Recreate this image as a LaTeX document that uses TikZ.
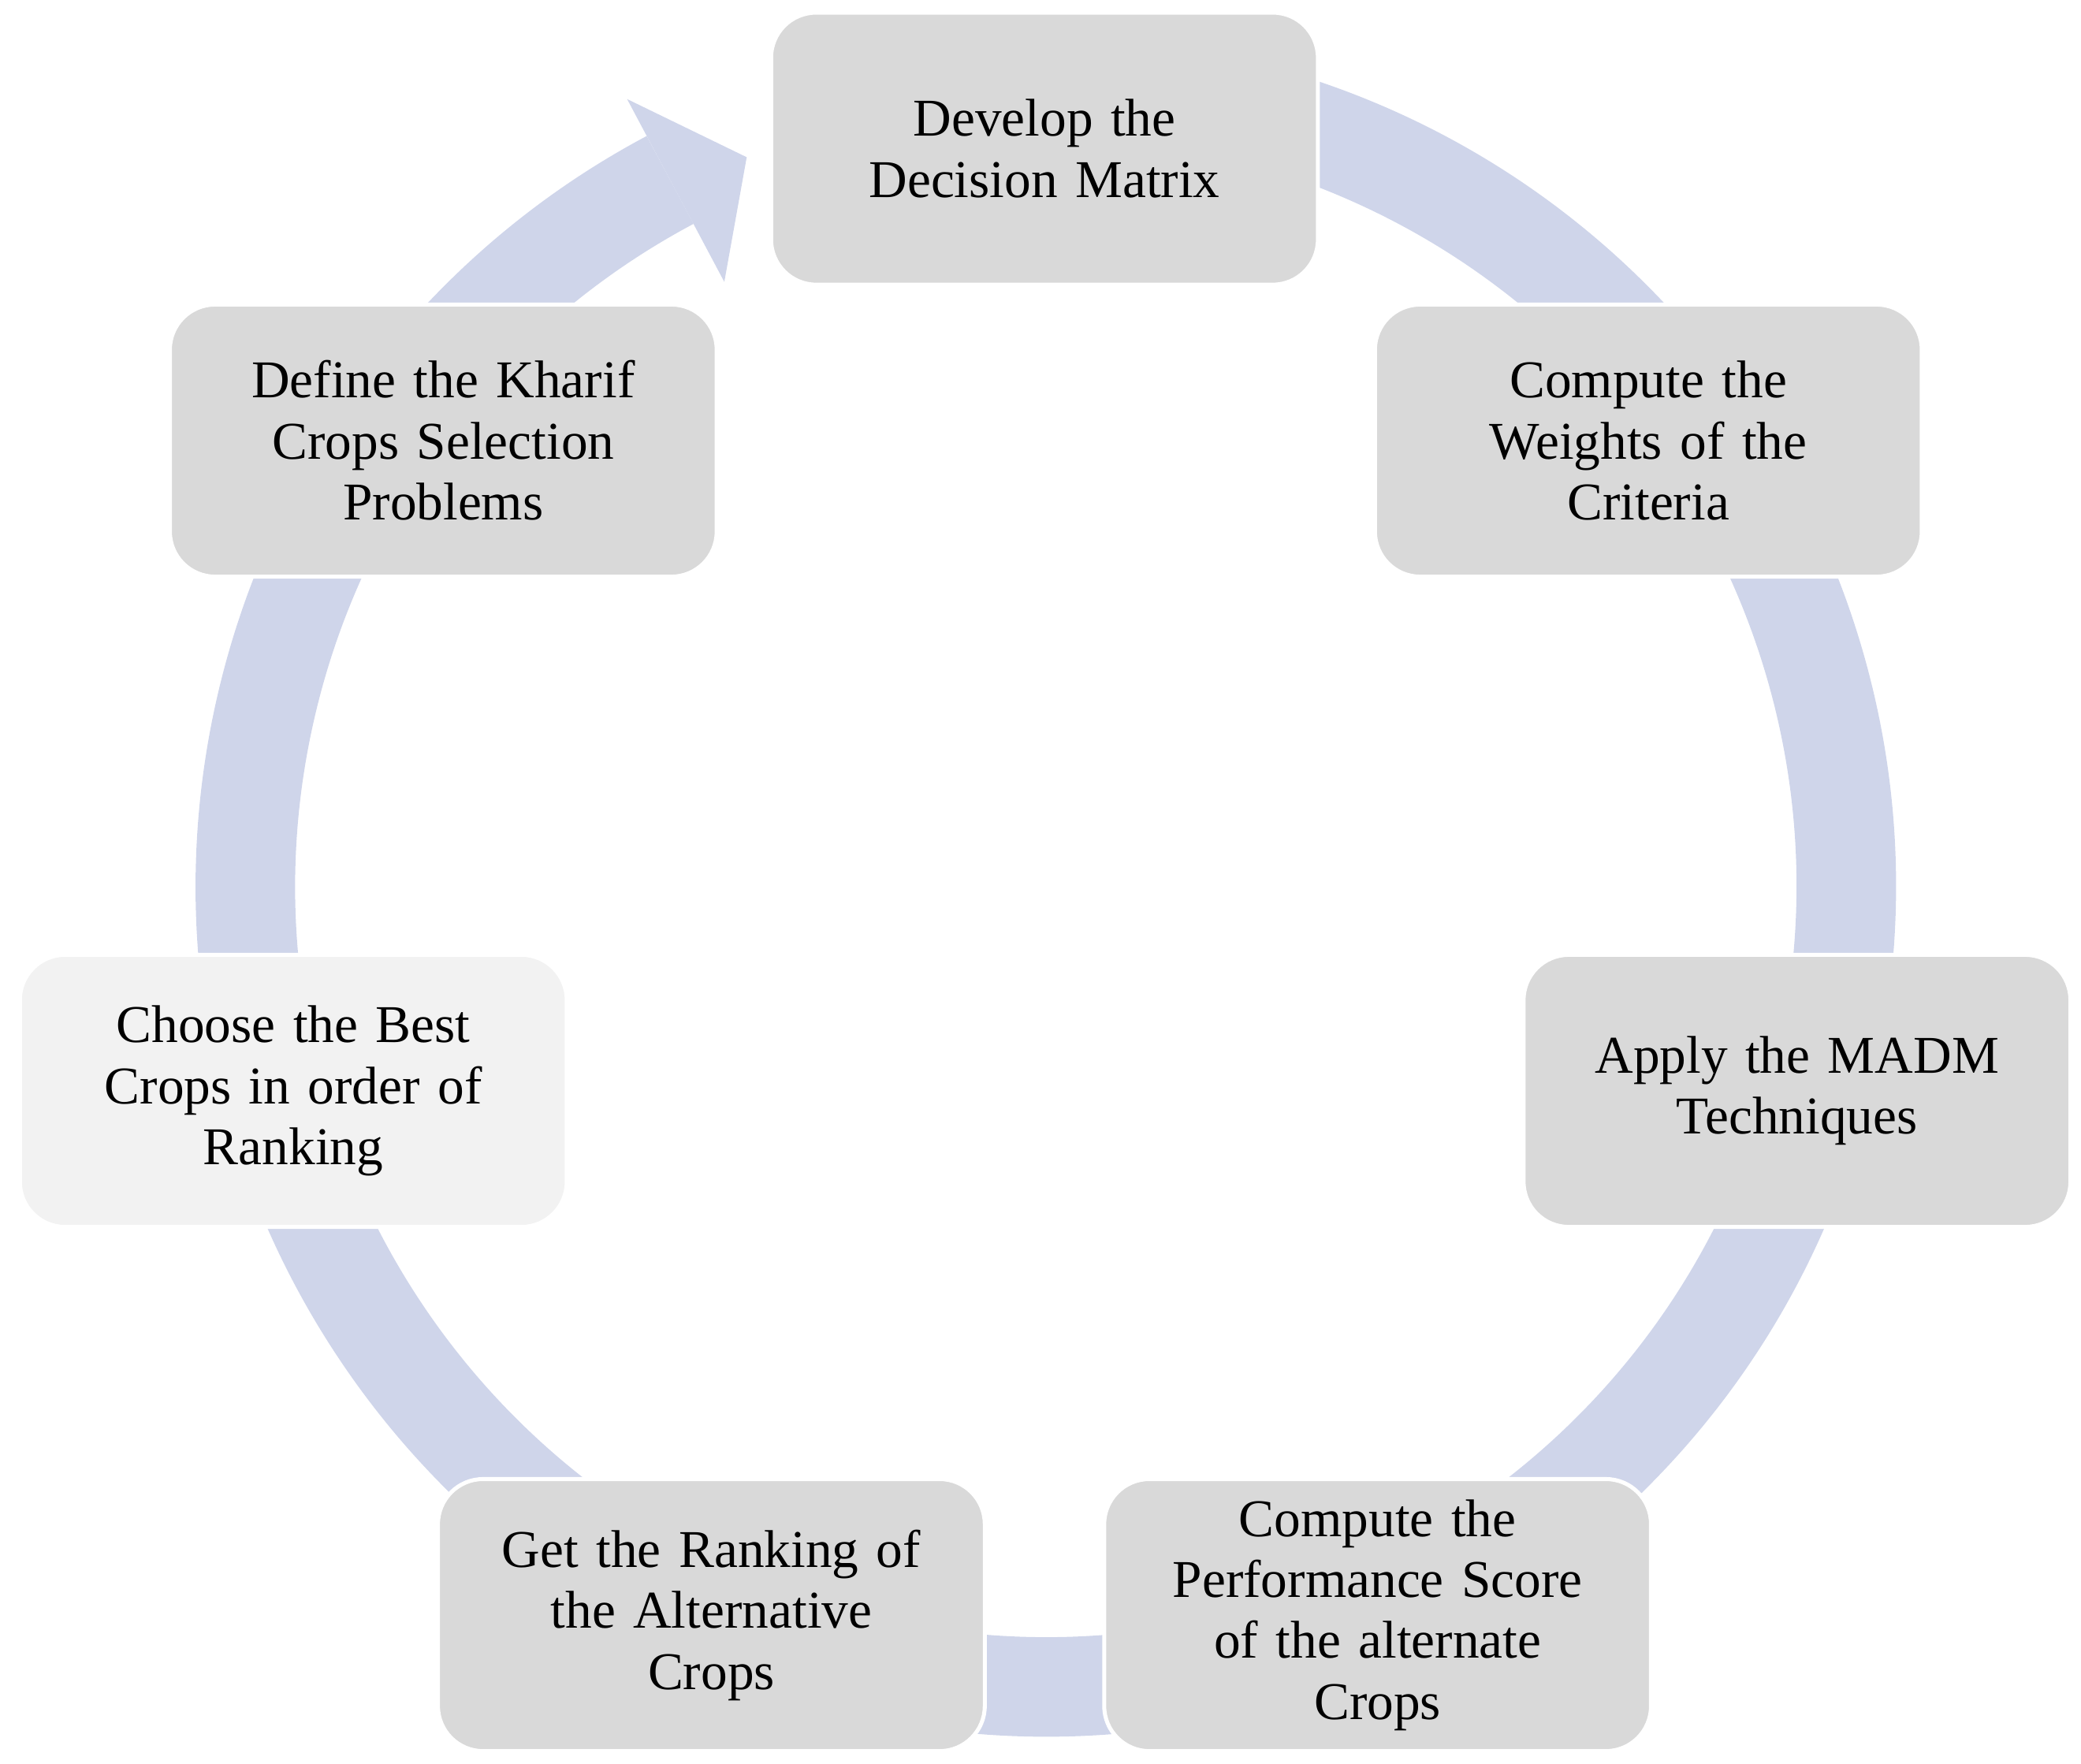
\documentclass[tikz,border=0pt]{standalone}
\usepackage{fontspec}
\setmainfont{Liberation Serif}
\begin{document}
\begin{tikzpicture}[x=0.5pt,y=-0.5pt,
  box/.style={draw=white,line width=1.5pt,fill=boxc,rounded corners=17pt,minimum width=206pt,minimum height=102.5pt,align=center,font=\fontsize{20}{23}\selectfont,text width=190pt},
  ring/.style={draw=ringc,line width=37.5pt}]
\definecolor{boxc}{HTML}{D9D9D9}
\definecolor{lightc}{HTML}{F2F2F2}
\definecolor{ringc}{HTML}{CFD5EA}
\useasboundingbox (0,0) rectangle (1568,1329);
\coordinate (c) at (788,668);
\draw[ring] ([shift={(75:301.5pt)}]c) arc[start angle=75,end angle=-242,radius=301.5pt];
\fill[ringc] ([shift={(118:258pt)}]c) -- ([shift={(118:336pt)}]c) -- ([shift={(112.3:297pt)}]c) -- cycle;
\node[box] (d) at (787,112) {Develop the\\Decision Matrix};
\node[box] (w) at (1242,332) {Compute the\\Weights of the\\Criteria};
\node[box] (a) at (1354,822) {Apply the MADM\\Techniques};
\node[box] (p) at (1038,1217) {Compute the\\Performance Score\\of the alternate\\Crops};
\node[box] (g) at (536,1217) {Get the Ranking of\\the Alternative\\Crops};
\node[box,fill=lightc] (b) at (221,822) {Choose the Best\\Crops in order of\\Ranking};
\node[box] (k) at (334,332) {Define the Kharif\\Crops Selection\\Problems};
\end{tikzpicture}
\end{document}
